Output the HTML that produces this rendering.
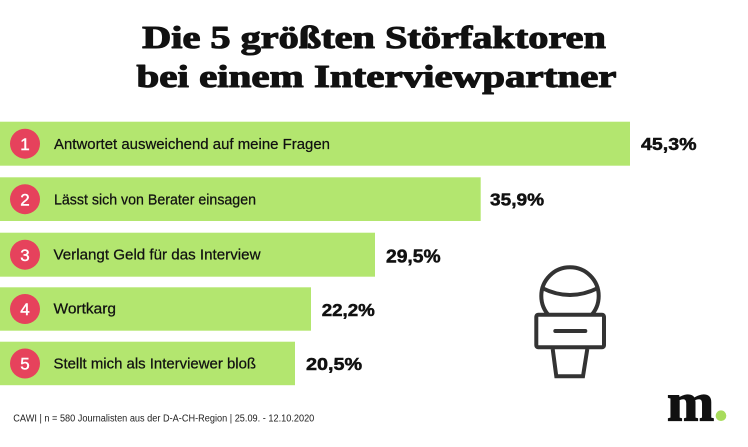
<!DOCTYPE html>
<html>
<head>
<meta charset="utf-8">
<style>
  html,body{margin:0;padding:0;background:#fff;}
  svg{display:block;}
</style>
</head>
<body>
<svg width="748" height="447" viewBox="0 0 748 447" xmlns="http://www.w3.org/2000/svg">
  <rect x="0" y="0" width="748" height="447" fill="#ffffff"/>

  <!-- Title -->
  <g font-family="'Liberation Serif', serif" font-weight="bold" font-size="32" fill="#111" stroke="#111" stroke-width="1.1" stroke-linejoin="round">
    <text x="0" y="0" text-anchor="middle" transform="translate(374,48) scale(1.26,1)">Die 5 größten Störfaktoren</text>
    <text x="0" y="0" text-anchor="middle" transform="translate(376.5,87) scale(1.28,1)">bei einem Interviewpartner</text>
  </g>

  <!-- Bars -->
  <g fill="#b3e66f">
    <rect x="0" y="121.7" width="630" height="44"/>
    <rect x="0" y="177.3" width="480.7" height="43.7"/>
    <rect x="0" y="232.7" width="375" height="44"/>
    <rect x="0" y="287.3" width="311" height="43.4"/>
    <rect x="0" y="341.7" width="295" height="43.5"/>
  </g>

  <!-- Circles -->
  <g fill="#e6425c">
    <circle cx="25" cy="143.7" r="15"/>
    <circle cx="25" cy="199.2" r="15"/>
    <circle cx="25" cy="254.7" r="15"/>
    <circle cx="25" cy="309" r="15"/>
    <circle cx="25" cy="363.5" r="15"/>
  </g>
  <g font-family="'Liberation Sans', sans-serif" font-size="17" fill="#ffffff" stroke="#ffffff" stroke-width="0.4" text-anchor="middle">
    <text x="25" y="150">1</text>
    <text x="25" y="205.4">2</text>
    <text x="25" y="260.9">3</text>
    <text x="25" y="315.2">4</text>
    <text x="25" y="369.7">5</text>
  </g>

  <!-- Labels -->
  <g font-family="'Liberation Sans', sans-serif" font-size="15" fill="#111" stroke="#111" stroke-width="0.25">
    <text x="54" y="149" textLength="276" lengthAdjust="spacingAndGlyphs">Antwortet ausweichend auf meine Fragen</text>
    <text x="54" y="204.5" textLength="202" lengthAdjust="spacingAndGlyphs">Lässt sich von Berater einsagen</text>
    <text x="53.5" y="259.5" textLength="207" lengthAdjust="spacingAndGlyphs">Verlangt Geld für das Interview</text>
    <text x="53.5" y="313.5" textLength="62.5" lengthAdjust="spacingAndGlyphs">Wortkarg</text>
    <text x="53.5" y="368.5" textLength="202.5" lengthAdjust="spacingAndGlyphs">Stellt mich als Interviewer bloß</text>
  </g>

  <!-- Values -->
  <g font-family="'Liberation Sans', sans-serif" font-weight="bold" font-size="18" fill="#111" stroke="#111" stroke-width="0.5">
    <text x="0" y="0" transform="translate(641,150) scale(1.09,1)">45,3%</text>
    <text x="0" y="0" transform="translate(490,205.7) scale(1.06,1)">35,9%</text>
    <text x="0" y="0" transform="translate(386,262.5) scale(1.07,1)">29,5%</text>
    <text x="0" y="0" transform="translate(321.7,316) scale(1.04,1)">22,2%</text>
    <text x="0" y="0" transform="translate(306,370) scale(1.1,1)">20,5%</text>
  </g>

  <!-- Microphone icon -->
  <g fill="none" stroke="#333333" stroke-width="4">
    <circle cx="570" cy="296" r="28.7" fill="#ffffff"/>
    <path d="M542,288 Q570,302 598,288"/>
    <path d="M552.7,349 L556.3,376.3 L583,376.3 L587.3,349" stroke-linejoin="miter"/>
    <rect x="536.3" y="314.7" width="67.7" height="32.6" rx="2" fill="#ffffff"/>
    <line x1="555.3" y1="331" x2="585.3" y2="331" stroke-linecap="round"/>
  </g>

  <!-- Footer -->
  <text x="13.3" y="421.5" font-family="'Liberation Sans', sans-serif" font-size="10" fill="#222" textLength="301" lengthAdjust="spacingAndGlyphs">CAWI | n = 580 Journalisten aus der D-A-CH-Region | 25.09. - 12.10.2020</text>

  <!-- Logo -->
  <text x="0" y="0" transform="translate(667,420.7) scale(1.05,1)" font-family="'Liberation Serif', serif" font-weight="bold" font-size="54" fill="#111" stroke="#111" stroke-width="1.2">m</text>
  <circle cx="721" cy="415.7" r="5.3" fill="#a8dc5c"/>
</svg>
</body>
</html>
